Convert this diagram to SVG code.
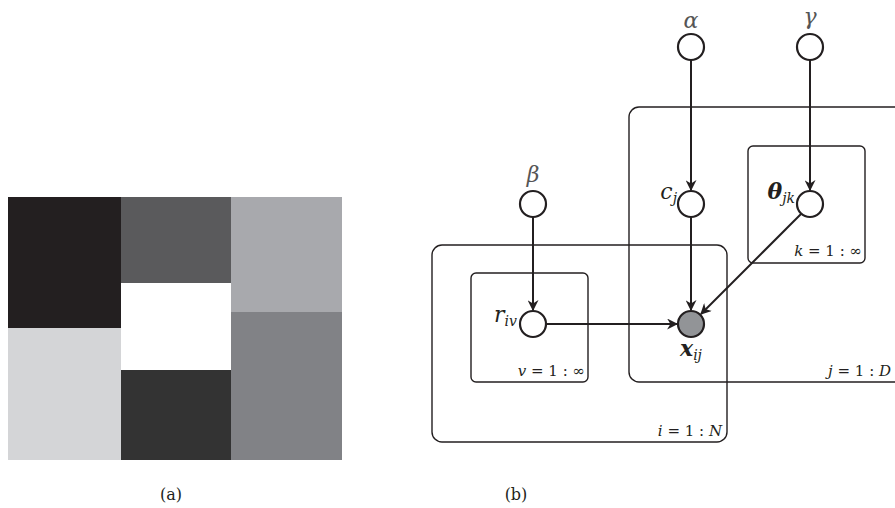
<svg xmlns="http://www.w3.org/2000/svg" width="895" height="508" viewBox="0 0 895 508">
<style>
.plate{fill:none;stroke:#231f20;stroke-width:1.4}
.node{fill:#ffffff;stroke:#231f20;stroke-width:2.2}
.obs{fill:#929497;stroke:#231f20;stroke-width:2.2}
.edge{stroke:#231f20;stroke-width:2;fill:none;marker-end:url(#ah)}
.m{font-family:"DejaVu Serif",serif;font-style:italic;fill:#231f20}
.g{font-family:"DejaVu Serif",serif;font-style:italic;fill:#555555}
.lbl{font-family:"DejaVu Serif",serif;font-size:15px;fill:#231f20}
.cap{font-family:"DejaVu Serif",serif;font-size:16px;fill:#231f20}
</style>
<defs>
<marker id="ah" viewBox="0 0 10 10" refX="9" refY="5" markerWidth="11" markerHeight="11" orient="auto" markerUnits="userSpaceOnUse">
<path d="M0,0 L10,5 L0,10 L3,5 z" fill="#231f20"/>
</marker>
</defs>
<rect width="895" height="508" fill="#ffffff"/>
<g id="panel-a">
<rect x="8" y="197" width="113" height="131" fill="#231f20"/>
<rect x="8" y="328" width="113" height="132" fill="#d4d5d7"/>
<rect x="121" y="197" width="110" height="86" fill="#5a5a5c"/>
<rect x="121" y="283" width="110" height="87" fill="#ffffff"/>
<rect x="121" y="370" width="110" height="90" fill="#333333"/>
<rect x="231" y="197" width="111" height="115" fill="#a8a9ad"/>
<rect x="231" y="312" width="111" height="148" fill="#818286"/>
</g>
<g id="plates">
<rect class="plate" x="629" y="107" width="290" height="275" rx="10"/>
<rect class="plate" x="748" y="146" width="117" height="117" rx="5"/>
<rect class="plate" x="432" y="245" width="295" height="197" rx="10"/>
<rect class="plate" x="471" y="273" width="117" height="109" rx="5"/>
<text class="lbl" x="862" y="256" text-anchor="end"><tspan font-style="italic">k</tspan> = 1 : ∞</text>
<text class="lbl" x="585" y="376" text-anchor="end"><tspan font-style="italic">v</tspan> = 1 : ∞</text>
<text class="lbl" x="722" y="436" text-anchor="end"><tspan font-style="italic">i</tspan> = 1 : <tspan font-style="italic">N</tspan></text>
<text class="lbl" x="891" y="376" text-anchor="end"><tspan font-style="italic">j</tspan> = 1 : <tspan font-style="italic">D</tspan></text>
</g>
<g id="connectors">
<line class="edge" x1="691" y1="60" x2="691" y2="190"/>
<line class="edge" x1="810" y1="60" x2="810" y2="190"/>
<line class="edge" x1="533" y1="217" x2="533" y2="310"/>
<line class="edge" x1="691" y1="217" x2="691" y2="310"/>
<line class="edge" x1="546" y1="324" x2="677" y2="324"/>
<line class="edge" x1="801" y1="214" x2="701" y2="314"/>
</g>
<g id="alpha">
<circle class="node" cx="691" cy="47" r="13"/>
<text class="g" x="691" y="28" font-size="22" text-anchor="middle">α</text>
</g>
<g id="gamma">
<circle class="node" cx="810" cy="47" r="13"/>
<text class="g" x="810" y="24" font-size="22" text-anchor="middle">γ</text>
</g>
<g id="beta">
<circle class="node" cx="533" cy="204" r="13"/>
<text class="g" x="533" y="182" font-size="22" text-anchor="middle">β</text>
</g>
<g id="c_j">
<circle class="node" cx="691" cy="204" r="13"/>
<text class="m" x="677" y="199" font-size="22" text-anchor="end">c<tspan font-size="14" dy="4">j</tspan></text>
</g>
<g id="theta_jk">
<circle class="node" cx="810" cy="204" r="13"/>
<text class="m" x="795" y="199" font-size="22" text-anchor="end" font-weight="bold">θ<tspan font-size="14" dy="4" font-weight="normal">jk</tspan></text>
</g>
<g id="r_iv">
<circle class="node" cx="533" cy="324" r="13"/>
<text class="m" x="517" y="322" font-size="22" text-anchor="end">r<tspan font-size="14" dy="4">iv</tspan></text>
</g>
<g id="x_ij">
<circle class="obs" cx="691" cy="324" r="13"/>
<text class="m" x="691" y="356" font-size="22" text-anchor="middle" font-weight="bold">x<tspan font-size="14" dy="4" font-weight="normal">ij</tspan></text>
</g>
<text class="cap" x="171" y="500" text-anchor="middle">(a)</text>
<text class="cap" x="516" y="500" text-anchor="middle">(b)</text>
</svg>
